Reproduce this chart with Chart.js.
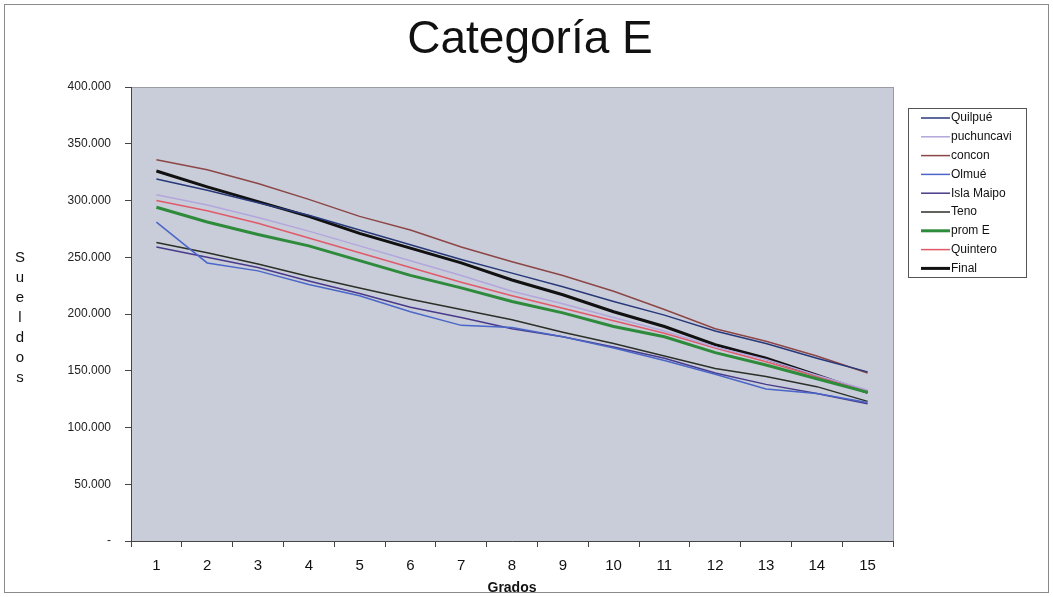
<!DOCTYPE html>
<html>

<head>
    <script src="https://cdn.jsdelivr.net/npm/chart.js@4.3.0/dist/chart.umd.min.js"></script>
    <style>
        body { margin: 0; background: #fff; }
    </style>
</head>

<body>
    <canvas id="myChart" width="1053" height="597"></canvas>
    <script>
        // categories (grados)
        const grados = ["1", "2", "3", "4", "5", "6", "7", "8", "9", "10", "11", "12", "13", "14", "15"];

        // series values (sueldos)
        const quilpue    = [319000, 309000, 298000, 287000, 274000, 261000, 248000, 236000, 224000, 211000, 199000, 185000, 174000, 161000, 149000];
        const puchuncavi = [305000, 296000, 285000, 273000, 260000, 247000, 234000, 220000, 209000, 197000, 185000, 171000, 160000, 146000, 133000];
        const concon     = [336000, 327000, 315000, 301000, 286000, 274000, 259000, 246000, 234000, 220000, 204000, 187000, 176000, 163000, 148000];
        const olmue      = [281000, 245000, 238000, 226000, 216000, 202000, 190000, 188000, 180000, 170000, 159000, 147000, 134000, 130000, 122000];
        const islaMaipo  = [259000, 250000, 241000, 229000, 218000, 206000, 197000, 187000, 180000, 171000, 161000, 148000, 138000, 130000, 121000];
        const teno       = [263000, 254000, 244000, 233000, 223000, 213000, 204000, 195000, 184000, 174000, 163000, 152000, 145000, 136000, 123000];
        const promE      = [294000, 281000, 270000, 260000, 247000, 234000, 223000, 211000, 201000, 189000, 180000, 166000, 155000, 143000, 131000];
        const quintero   = [300000, 291000, 280000, 267000, 254000, 241000, 228000, 216000, 205000, 194000, 183000, 170000, 158000, 145000, 132000];
        const final      = [326000, 312000, 299000, 286000, 271000, 258000, 245000, 230000, 217000, 202000, 189000, 173000, 161000, 146000, 131000];

        // y tick values
        const yTicks = [0, 50000, 100000, 150000, 200000, 250000, 300000, 350000, 400000];

        function fmt(v) {
            if (v === 0) return '-';
            return String(v).replace(/\B(?=(\d{3})+(?!\d))/g, '.');
        }

        function line(label, data, color, width) {
            return {
                label: label,
                data: data,
                borderColor: color,
                backgroundColor: color,
                borderWidth: width || 1.5,
                pointRadius: 0,
                tension: 0,
                fill: false
            };
        }

        // frame, plot background, title, vertical axis title, legend box
        const decor = {
            id: 'decor',
            beforeDraw(chart) {
                const c = chart.ctx;
                const a = chart.chartArea;
                c.save();
                c.fillStyle = '#fff';
                c.fillRect(0, 0, chart.width, chart.height);
                c.strokeStyle = '#8a8a8a';
                c.lineWidth = 1;
                c.strokeRect(4.5, 4.5, chart.width - 9, chart.height - 9);
                c.fillStyle = '#c9cdd9';
                c.fillRect(a.left, a.top, a.right - a.left, a.bottom - a.top);
                c.strokeStyle = '#9a9ca4';
                c.strokeRect(a.left + 0.5, a.top + 0.5, a.right - a.left, a.bottom - a.top);
                c.restore();
            },
            afterDraw(chart) {
                const c = chart.ctx;
                c.save();
                c.fillStyle = '#111';
                c.textAlign = 'center';
                c.textBaseline = 'middle';
                c.font = '46px Arial, "Liberation Sans", sans-serif';
                c.fillText('Categoría E', 530, 40);

                c.font = '15px Arial, "Liberation Sans", sans-serif';
                const letters = 'Sueldos'.split('');
                letters.forEach((l, i) => c.fillText(l, 20, 258 + i * 20));

                // legend
                const lx = 908, ly = 108, lw = 118, lh = 169;
                c.fillStyle = '#fff';
                c.fillRect(lx, ly, lw, lh);
                c.strokeStyle = '#555';
                c.lineWidth = 1;
                c.strokeRect(lx + 0.5, ly + 0.5, lw, lh);
                c.font = '12px Arial, "Liberation Sans", sans-serif';
                c.textAlign = 'left';
                chart.data.datasets.forEach((ds, i) => {
                    const y = ly + 10 + i * 18.8;
                    c.strokeStyle = ds.borderColor;
                    c.lineWidth = ds.borderWidth;
                    c.beginPath();
                    c.moveTo(lx + 13, y);
                    c.lineTo(lx + 42, y);
                    c.stroke();
                    c.fillStyle = '#111';
                    c.fillText(ds.label, lx + 43, y);
                });
                c.restore();
            }
        };

        new Chart(document.getElementById('myChart'), {
            type: 'line',
            data: {
                labels: grados,
                datasets: [
                    line('Quilpué', quilpue, '#27397a'),
                    line('puchuncavi', puchuncavi, '#b3a6dc'),
                    line('concon', concon, '#8c4646'),
                    line('Olmué', olmue, '#4a66c8'),
                    line('Isla Maipo', islaMaipo, '#4a3a8c'),
                    line('Teno', teno, '#2c3028'),
                    line('prom E', promE, '#2e8b3c', 3),
                    line('Quintero', quintero, '#e05a6a'),
                    line('Final', final, '#111111', 3)
                ]
            },
            options: {
                responsive: false,
                animation: false,
                layout: { padding: { top: 87, right: 160, bottom: 0, left: 0 } },
                plugins: {
                    legend: { display: false },
                    title: { display: false },
                    tooltip: { enabled: false }
                },
                scales: {
                    x: {
                        offset: true,
                        grid: { offset: true, drawOnChartArea: false, tickLength: 6, color: '#444' },
                        border: { color: '#444' },
                        ticks: { color: '#111', font: { size: 15, family: 'Arial, "Liberation Sans", sans-serif' }, padding: 10, maxRotation: 0 },
                        title: { display: true, text: 'Grados', color: '#111', font: { size: 14, weight: 'bold', family: 'Arial, "Liberation Sans", sans-serif' }, padding: 0 },
                        afterFit(scale) { scale.height = 56; }
                    },
                    y: {
                        min: 0,
                        max: 400000,
                        afterBuildTicks(scale) { scale.ticks = yTicks.map(v => ({ value: v })); },
                        grid: { drawOnChartArea: false, tickLength: 6, color: '#444' },
                        border: { color: '#444' },
                        ticks: { color: '#222', font: { size: 12, family: 'Arial, "Liberation Sans", sans-serif' }, padding: 14, callback: v => fmt(v) },
                        afterFit(scale) { scale.width = 131; }
                    }
                }
            },
            plugins: [decor]
        });
    </script>
</body>

</html>
